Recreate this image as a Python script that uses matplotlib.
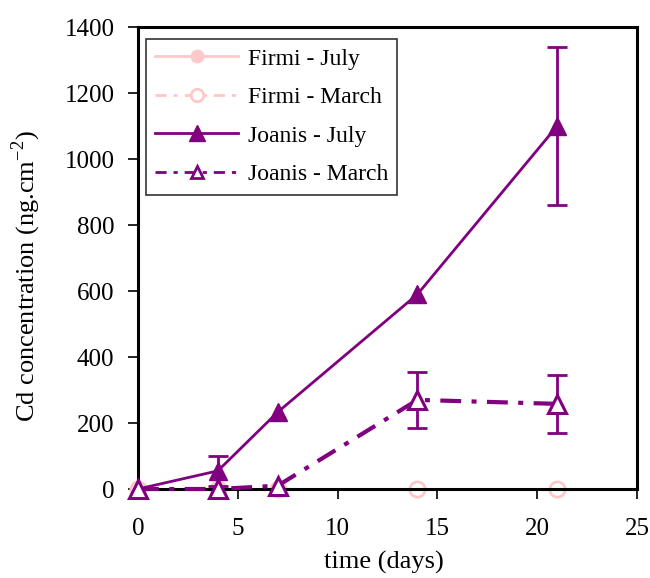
import matplotlib.pyplot as plt
import numpy as np
from matplotlib.lines import Line2D

plt.rcParams.update({'font.family': 'Liberation Serif', 'font.size': 18, 'mathtext.fontset': 'custom',
                     'mathtext.rm': 'Liberation Serif'})

days = [0, 4, 7, 14, 21]
firmi_july = [0, 0, 0, 0, 0]
firmi_march = [0, 0, 0, 0, 0]
joanis_july = [0, 55, 233, 590, 1100]
joanis_july_err = [np.nan, 45, np.nan, np.nan, 240]
joanis_march = [0, 0, 10, 270, 258]
joanis_march_err = [np.nan, np.nan, np.nan, 85, 87]

pink = '#FFC8C8'
purple = '#800080'
dashdot = (0, (5, 2.5, 1.2, 2.5))

fig = plt.figure(figsize=(6.5, 5.78), dpi=100)
ax = fig.add_axes([138 / 650, 89 / 578, 499 / 650, 462 / 578])

ax.plot(days, firmi_july, color=pink, lw=2, marker='o', ms=11, clip_on=False, zorder=2)
ax.plot(days, firmi_march, color=pink, lw=2, ls=dashdot, marker='o', ms=11,
        mfc='white', mec=pink, mew=2, clip_on=False, zorder=2)
ax.errorbar(days, joanis_july, yerr=joanis_july_err, fmt='none', ecolor=purple, elinewidth=2,
            capsize=7, capthick=2, zorder=3)
ax.plot(days, joanis_july, color=purple, lw=2, marker='^', ms=13, clip_on=False, zorder=4)
ax.errorbar(days, joanis_march, yerr=joanis_march_err, fmt='none', ecolor=purple, elinewidth=2,
            capsize=7, capthick=2, zorder=3)
ax.plot(days, joanis_march, color=purple, lw=3, ls=dashdot, marker='^', ms=13, mfc='white',
        mec=purple, mew=2.2, clip_on=False, zorder=4)

ax.set_xlim(0, 25)
ax.set_ylim(0, 1400)
ax.set_xticks(np.arange(0, 26, 5))
ax.set_yticks(np.arange(0, 1401, 200))
ax.tick_params(axis='y', direction='out', length=7, width=1.2, labelsize=18, pad=10)
ax.tick_params(axis='x', direction='out', length=7, width=1.2, labelsize=18, pad=14)
for s in ax.spines.values():
    s.set_linewidth(2.2)
ax.set_xlabel('time (days)', fontsize=19)
ax.set_ylabel('Cd concentration (ng.cm$^{-2}$)', fontsize=19)
ax.xaxis.set_label_coords(0.493, -0.135)
ax.yaxis.set_label_coords(-0.19, 0.46)

handles = [
    Line2D([0], [0], color=pink, lw=2, marker='o', ms=9),
    Line2D([0], [0], color=pink, lw=2, ls=(0, (4, 2.5, 1.5, 2.5)), marker='o', ms=9, mfc='white', mec=pink, mew=2),
    Line2D([0], [0], color=purple, lw=2, marker='^', ms=11),
    Line2D([0], [0], color=purple, lw=2, ls=(0, (4, 2.5, 1.5, 2.5)), marker='^', ms=9, mfc='white', mec=purple, mew=2),
]
labels = ['Firmi - July', 'Firmi - March', 'Joanis - July', 'Joanis - March']
leg = ax.legend(handles, labels, loc='upper left', bbox_to_anchor=(0.016, 0.975), fontsize=17, frameon=True,
                fancybox=False, edgecolor='black', handlelength=3.5, borderpad=0.4, labelspacing=0.72,
                handletextpad=0.4, borderaxespad=0)
leg.get_frame().set_linewidth(1.2)

plt.savefig('out.png', dpi=100)
